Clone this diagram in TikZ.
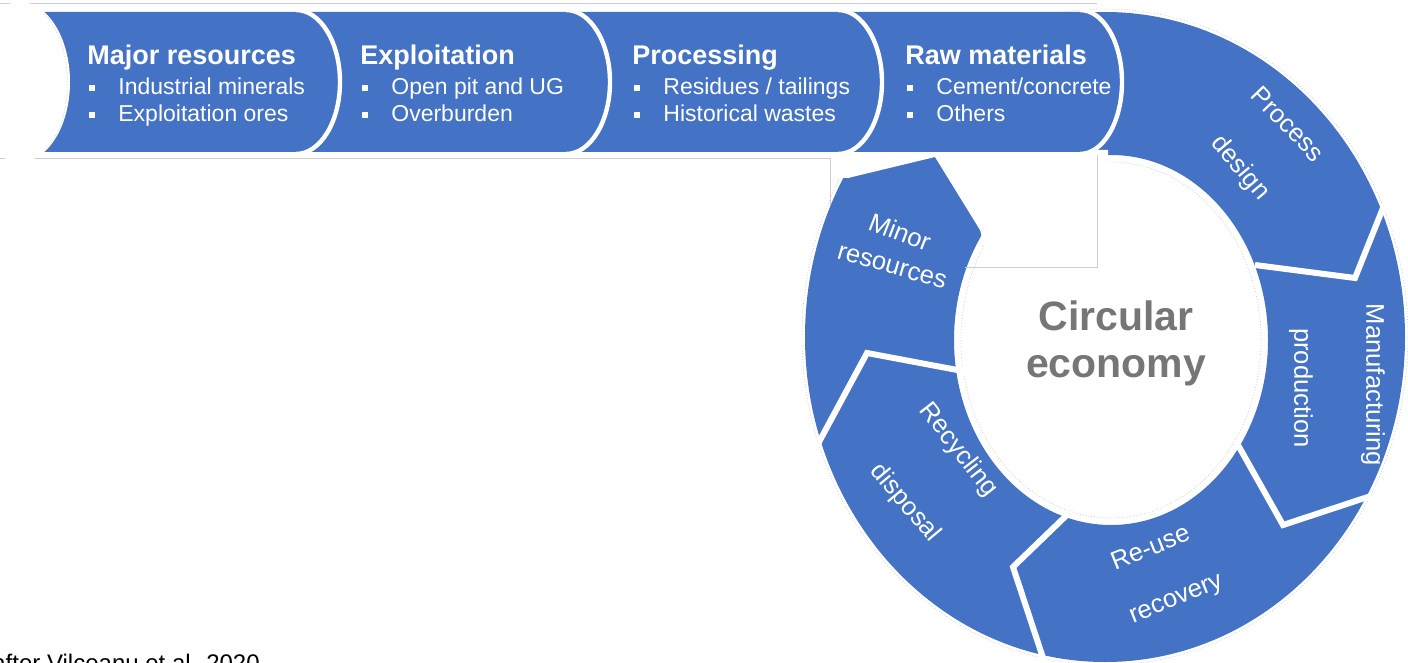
\documentclass[tikz,border=0pt]{standalone}
\usepackage{fontspec}
\setmainfont{Liberation Sans}
\definecolor{cblue}{RGB}{68,114,196}
\definecolor{cgray}{RGB}{118,118,118}
\definecolor{lgray}{RGB}{205,205,205}
\begin{document}
\begin{tikzpicture}[x=0.5pt,y=-0.5pt,
  sepline/.style={draw=white,line width=3pt,line join=miter},
  bsep/.style={draw=white,line width=2.2pt},
  ttl/.style={text=white,font=\fontsize{13.5}{16}\selectfont\bfseries,anchor=base west,inner sep=0pt},
  itm/.style={text=white,font=\fontsize{11.5}{14}\selectfont,anchor=base west,inner sep=0pt},
  bul/.style={fill=white,minimum size=2.8pt,inner sep=0pt},
  rtxt/.style={text=white,font=\fontsize{12.8}{15}\selectfont,inner sep=0pt},
  ctxt/.style={text=cgray,font=\fontsize{20.5}{24}\selectfont\bfseries,anchor=base,inner sep=0pt},
  framel/.style={draw=lgray,line width=0.5pt},
  faint/.style={draw=lgray,line width=0.4pt,densely dotted}]
\useasboundingbox (0,0) rectangle (1408,663);
% ---- ring ----
\fill[cblue,even odd rule] (1105,337) ellipse[x radius=300,y radius=325]
                           (1111,340) ellipse[x radius=157,y radius=185];
\draw[faint] (1105,337) ellipse[x radius=303,y radius=328];
\draw[faint] (1111,340) ellipse[x radius=150,y radius=178];
% gap between band and Minor resources
\fill[white] (780,150) -- (1108,150) -- (1108,175) -- (1000,300) -- (980,230)
  -- (935,157) -- (848,178) -- (780,178) -- cycle;
% faint frame lines
\draw[framel] (0,4) -- (1097,4);
\draw[framel] (0,159) -- (830,159) -- (830,205);
\draw[framel] (1097,155) -- (1097,268) -- (965,268);
% ring separators
\coordinate (s1o) at (812,455); \coordinate (s1c) at (867,353); \coordinate (s1i) at (968,372);
\coordinate (s2i) at (1070,512); \coordinate (s2c) at (1013,567); \coordinate (s2o) at (1047,670);
\coordinate (s3i) at (1238,445); \coordinate (s3c) at (1283,525); \coordinate (s3o) at (1392,489);
\coordinate (s4i) at (1255,265); \coordinate (s4c) at (1355,278); \coordinate (s4o) at (1393,183);
\draw[sepline] (s1o) -- (s1c) -- (s1i);
\draw[sepline] (s2i) -- (s2c) -- (s2o);
\draw[sepline] (s3i) -- (s3c) -- (s3o);
\draw[sepline] (s4i) -- (s4c) -- (s4o);
% ---- band ----
\fill[cblue] (20,12) -- (1080,12) arc[start angle=-90,end angle=90,x radius=42,y radius=70] -- (20,152) -- cycle;
\fill[white] (20,82) ellipse[x radius=50,y radius=80];
\draw[faint] (44,14) arc[start angle=-62,end angle=62,x radius=44,y radius=78];
\draw[bsep] (1080,10) arc[start angle=-90,end angle=90,x radius=42,y radius=72];
\foreach \X in {340,610,882}{
  \draw[bsep] (\X-44,10) arc[start angle=-90,end angle=90,x radius=44,y radius=72];
}
% band texts
\node[ttl] (t1) at (87,65) {Major resources};
\node[bul] (b11) at (92,88) {}; \node[itm] (i11) at (118,95) {Industrial minerals};
\node[bul] (b12) at (92,115) {}; \node[itm] (i12) at (118,122) {Exploitation ores};
\node[ttl] (t2) at (360,65) {Exploitation};
\node[bul] (b21) at (365,88) {}; \node[itm] (i21) at (391,95) {Open pit and UG};
\node[bul] (b22) at (365,115) {}; \node[itm] (i22) at (391,122) {Overburden};
\node[ttl] (t3) at (632,65) {Processing};
\node[bul] (b31) at (637,88) {}; \node[itm] (i31) at (663,95) {Residues / tailings};
\node[bul] (b32) at (637,115) {}; \node[itm] (i32) at (663,122) {Historical wastes};
\node[ttl] (t4) at (905,65) {Raw materials};
\node[bul] (b41) at (910,88) {}; \node[itm] (i41) at (936,95) {Cement/concrete};
\node[bul] (b42) at (910,115) {}; \node[itm] (i42) at (936,122) {Others};
% ring texts
\node[rtxt,rotate=-46] (p1) at (1288,124) {Process};
\node[rtxt,rotate=-50] (p2) at (1240,168) {design};
\node[rtxt,rotate=-90] (m1) at (1373,385) {Manufacturing};
\node[rtxt,rotate=-90] (m2) at (1301,388) {production};
\node[rtxt,rotate=22] (r1) at (1150,547) {Re-use};
\node[rtxt,rotate=22] (r2) at (1177,601) {recovery};
\node[rtxt,rotate=-52] (c1) at (958,450) {Recycling};
\node[rtxt,rotate=-50] (c2) at (905,503) {disposal};
\node[rtxt,rotate=-21] (n1) at (900,232) {Minor};
\node[rtxt,rotate=-16] (n2) at (892,267) {resources};
\node[ctxt] (ce1) at (1116,330) {Circular};
\node[ctxt] (ce2) at (1116,377) {economy};
% caption (cut by the lower edge)
\node[anchor=base west,inner sep=0pt,font=\fontsize{12}{14}\selectfont] (cap) at (-8,671) {after Vilceanu et al. 2020};
\end{tikzpicture}
\end{document}
